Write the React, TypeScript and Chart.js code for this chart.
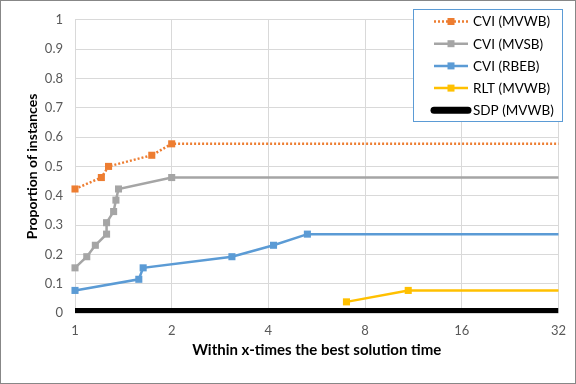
import React, { useEffect, useRef } from 'react';
import { Chart, registerables } from 'chart.js';

Chart.register(...registerables);

const FONT = 'Lato, "Open Sans", sans-serif';

// Data (x = multiple of best solution time, y = proportion of instances)
const cviMvwbX = [1, 1.208, 1.272, 1.734, 2, 32];
const cviMvwbY = [0.423, 0.462, 0.5, 0.538, 0.577, 0.577];

const cviMvsbX = [1, 1.088, 1.157, 1.254, 1.254, 1.319, 1.341, 1.366, 2, 32];
const cviMvsbY = [0.154, 0.192, 0.231, 0.269, 0.308, 0.346, 0.385, 0.423, 0.462, 0.462];

const cviRbebX = [1, 1.58, 1.63, 3.08, 4.15, 5.29, 32];
const cviRbebY = [0.077, 0.115, 0.154, 0.192, 0.231, 0.269, 0.269];

const rltMvwbX = [7, 10.9, 32];
const rltMvwbY = [0.038, 0.077, 0.077];

const sdpMvwbX = [1, 32];
const sdpMvwbY = [0, 0];

const xTicks = [1, 2, 4, 8, 16, 32];
const seriesLabels = ['CVI (MVWB)', 'CVI (MVSB)', 'CVI (RBEB)', 'RLT (MVWB)', 'SDP (MVWB)'];
const xTitle = 'Within x-times the best solution time';
const yTitle = 'Proportion of instances';

const colors = ['#ED7D31', '#A5A5A5', '#5B9BD5', '#FFC000', '#000000'];

export default function App() {
  const ref = useRef<HTMLCanvasElement>(null);

  useEffect(() => {
    document.body.style.margin = '0';
    const canvas = ref.current!;
    const pts = (xs: number[], ys: number[]) => xs.map((x, i) => ({ x, y: ys[i] }));
    const radii = (xs: number[]) => xs.map((_, i) => (i === xs.length - 1 ? 0 : 5));

    const decor = {
      id: 'decor',
      afterDraw(chart: any) {
        const c = chart.ctx as CanvasRenderingContext2D;
        const area = chart.chartArea;
        c.save();
        // outer border
        c.strokeStyle = '#878787';
        c.lineWidth = 1;
        c.strokeRect(0.5, 0.5, 575, 383);

        // axis titles
        c.fillStyle = '#000';
        c.font = `bold 15px ${FONT}`;
        c.textAlign = 'center';
        c.textBaseline = 'middle';
        c.fillText(xTitle, (area.left + area.right) / 2, 350);
        c.font = `bold 14px ${FONT}`;
        c.save();
        c.translate(32, (area.top + area.bottom) / 2);
        c.rotate(-Math.PI / 2);
        c.fillText(yTitle, 0, 0);
        c.restore();

        // legend
        const bx = 413.5, by = 9.5, bw = 149, bh = 112;
        c.fillStyle = '#fff';
        c.fillRect(bx, by, bw, bh);
        c.strokeStyle = '#5B9BD5';
        c.lineWidth = 1;
        c.strokeRect(bx, by, bw, bh);
        const ds = chart.data.datasets;
        for (let i = 0; i < ds.length; i++) {
          const y = 21.5 + i * 22.2;
          const d = ds[i];
          c.save();
          c.strokeStyle = d.borderColor;
          c.lineWidth = i === 4 ? 7 : d.borderWidth;
          c.lineCap = i === 4 ? 'round' : 'butt';
          c.setLineDash(d.borderDash || []);
          c.beginPath();
          c.moveTo(434, y);
          c.lineTo(468, y);
          c.stroke();
          c.restore();
          if (i < 4) {
            c.fillStyle = d.borderColor;
            c.fillRect(447.5, y - 3.5, 7, 7);
          }
          c.fillStyle = '#000';
          c.font = `13.5px ${FONT}`;
          c.textAlign = 'left';
          c.textBaseline = 'middle';
          c.fillText(d.label, 473, y + 0.5);
        }
        c.restore();
      },
    };

    const mkDs = (i: number, xs: number[], ys: number[], extra: any = {}) => ({
      label: seriesLabels[i],
      data: pts(xs, ys),
      borderColor: colors[i],
      backgroundColor: colors[i],
      borderWidth: 2.5,
      pointStyle: 'rect',
      pointRadius: radii(xs),
      pointBorderWidth: 0,
      pointHoverRadius: 0,
      tension: 0,
      clip: false,
      ...extra,
    });

    const chart = new Chart(canvas, {
      type: 'line',
      data: {
        datasets: [
          mkDs(0, cviMvwbX, cviMvwbY, { borderDash: [2, 2], borderCapStyle: 'butt' }),
          mkDs(1, cviMvsbX, cviMvsbY),
          mkDs(2, cviRbebX, cviRbebY),
          mkDs(3, rltMvwbX, rltMvwbY),
          mkDs(4, sdpMvwbX, sdpMvwbY, { borderWidth: 10, pointRadius: 0, clip: 0 }),
        ],
      },
      options: {
        responsive: false,
        animation: false,
        devicePixelRatio: 1,
        layout: { padding: { top: 19, right: 14, bottom: 0, left: 0 } },
        plugins: {
          legend: { display: false },
          tooltip: { enabled: false },
        },
        scales: {
          x: {
            type: 'logarithmic',
            min: 1,
            max: 32,
            afterBuildTicks: (scale: any) => {
              scale.ticks = xTicks.map((v) => ({ value: v }));
            },
            afterFit: (scale: any) => {
              scale.height = 71;
            },
            ticks: {
              callback: (v: any) => String(v),
              color: '#595959',
              font: { family: FONT, size: 13 },
              padding: 10,
              maxRotation: 0,
              autoSkip: false,
            },
            grid: { color: '#D9D9D9', drawTicks: false, lineWidth: 1 },
            border: { display: false },
          },
          y: {
            min: 0,
            max: 1,
            afterFit: (scale: any) => {
              scale.width = 75;
            },
            ticks: {
              stepSize: 0.1,
              callback: (v: any) => String(Number(Number(v).toFixed(1))),
              color: '#595959',
              font: { family: FONT, size: 13 },
              padding: 12,
            },
            grid: { color: '#D9D9D9', drawTicks: false, lineWidth: 1 },
            border: { display: true, color: '#D9D9D9' },
          },
        },
      },
      plugins: [decor],
    } as any);

    return () => chart.destroy();
  }, []);

  return (
    <div style={{ width: 576, height: 384 }}>
      <canvas ref={ref} width={576} height={384} style={{ display: 'block' }} />
    </div>
  );
}
